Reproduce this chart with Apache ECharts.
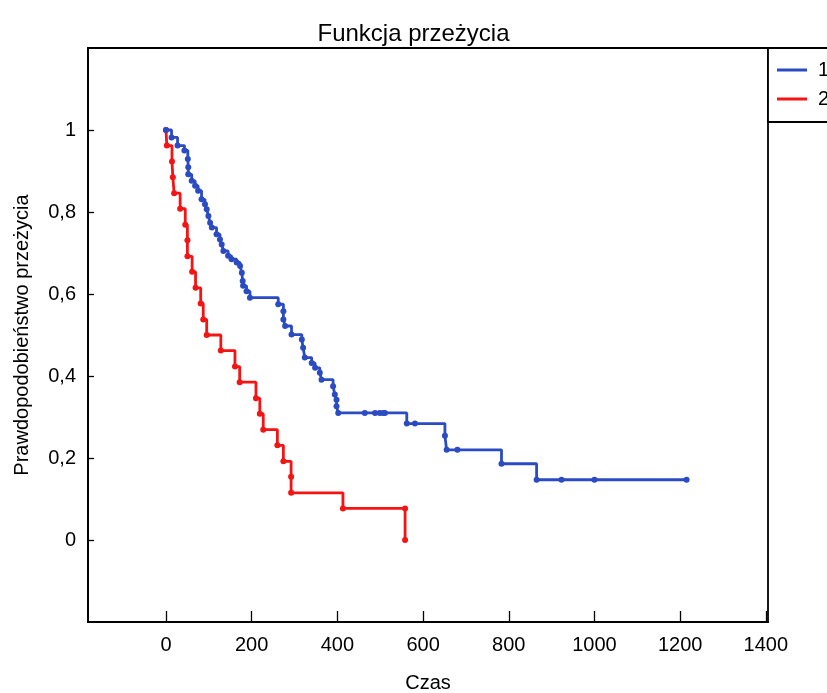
<!DOCTYPE html>
<html>
<head>
<meta charset="utf-8">
<script src="https://cdn.jsdelivr.net/npm/echarts@6/dist/echarts.min.js"></script>
<style>
html,body{margin:0;padding:0;background:#fff;}
#chart{width:827px;height:693px;}
</style>
</head>
<body>
<div id="chart"></div>
<script>
// ---- data ----
const chartTitle = 'Funkcja przeżycia';
const xAxisName = 'Czas';
const yAxisName = 'Prawdopodobieństwo przeżycia';
const seriesNames = ['1', '2'];
const xTicks = [0, 200, 400, 600, 800, 1000, 1200, 1400];
const yTicks = [0, 0.2, 0.4, 0.6, 0.8, 1];

const timesGroup1 = [0, 13, 27, 43, 51, 52, 52, 60, 68, 75, 83, 91, 95, 99, 103, 107, 118, 126, 130, 134, 145, 153, 165, 173, 177, 179, 180, 188, 196, 262, 274, 274, 278, 293, 317, 320, 324, 340, 348, 359, 363, 390, 394, 398, 398, 402, 464, 488, 499, 507, 511, 562, 581, 651, 655, 680, 783, 865, 923, 1000, 1215];
const survGroup1 = [1, 0.982, 0.962, 0.95, 0.929, 0.909, 0.892, 0.876, 0.864, 0.852, 0.831, 0.819, 0.807, 0.79, 0.774, 0.762, 0.746, 0.733, 0.721, 0.705, 0.693, 0.685, 0.677, 0.668, 0.652, 0.632, 0.62, 0.607, 0.591, 0.575, 0.558, 0.538, 0.522, 0.501, 0.489, 0.469, 0.445, 0.432, 0.42, 0.408, 0.391, 0.375, 0.355, 0.342, 0.326, 0.31, 0.31, 0.31, 0.31, 0.31, 0.31, 0.284, 0.284, 0.254, 0.22, 0.22, 0.186, 0.147, 0.147, 0.147, 0.147];

const timesGroup2 = [0, 2, 14, 16, 19, 33, 45, 50, 50, 61, 69, 81, 87, 95, 128, 161, 172, 210, 219, 227, 260, 274, 292, 292, 413, 558, 558];
const survGroup2 = [1, 0.962, 0.923, 0.885, 0.846, 0.808, 0.769, 0.731, 0.692, 0.654, 0.615, 0.577, 0.538, 0.5, 0.462, 0.423, 0.385, 0.346, 0.308, 0.269, 0.231, 0.192, 0.154, 0.115, 0.077, 0.077, 0];

// ---- build ----
const zip = (a, b) => a.map((v, i) => [v, b[i]]);
const blue = '#2a4bc2';
const red = '#f41414';
const font = 'Liberation Sans, Arial, sans-serif';

const chart = echarts.init(document.getElementById('chart'), null, {renderer: 'canvas'});
chart.setOption({
  animation: false,
  backgroundColor: '#ffffff',
  title: {
    text: chartTitle,
    left: 'center',
    top: 17,
    textStyle: {fontFamily: font, fontSize: 24, fontWeight: 'normal', color: '#000'}
  },
  legend: {
    orient: 'vertical',
    left: 768,
    top: 48,
    padding: [12, 12, 13, 9],
    itemGap: 9,
    itemWidth: 30,
    itemHeight: 3,
    icon: 'rect',
    borderColor: '#000',
    borderWidth: 1.8,
    backgroundColor: '#fff',
    textStyle: {fontFamily: font, fontSize: 20, color: '#000', padding: [0, 0, 0, 6]},
    data: seriesNames
  },
  grid: {
    left: 88, top: 48, right: 59, bottom: 71,
    outerBoundsMode: 'none',
    containLabel: false,
    show: true, borderColor: '#000', borderWidth: 1.8, backgroundColor: '#fff'
  },
  xAxis: {
    type: 'value',
    min: -182,
    max: 1405,
    name: xAxisName,
    nameLocation: 'middle',
    nameGap: 51,
    nameTextStyle: {fontFamily: font, fontSize: 20, color: '#000'},
    axisLine: {show: true, onZero: false, lineStyle: {color: '#000', width: 1.8}},
    axisTick: {show: true, inside: true, length: 11, customValues: xTicks, lineStyle: {color: '#000', width: 1.3}},
    axisLabel: {customValues: xTicks, margin: 13, fontFamily: font, fontSize: 20, color: '#000',
      formatter: v => String(v)},
    splitLine: {show: false}
  },
  yAxis: {
    type: 'value',
    min: -0.2,
    max: 1.2,
    name: yAxisName,
    nameLocation: 'middle',
    nameGap: 56,
    nameRotate: 90,
    nameTextStyle: {fontFamily: font, fontSize: 20, color: '#000'},
    axisLine: {show: true, onZero: false, lineStyle: {color: '#000', width: 1.8}},
    axisTick: {show: true, inside: true, length: 6, customValues: yTicks, lineStyle: {color: '#000', width: 1.3}},
    axisLabel: {
      customValues: yTicks, margin: 12, fontFamily: font, fontSize: 20, color: '#000',
      formatter: v => String(Math.round(v * 10) / 10).replace('.', ',')
    },
    splitLine: {show: false}
  },
  series: [
    {
      name: seriesNames[0],
      type: 'line',
      step: 'end',
      data: zip(timesGroup1, survGroup1),
      symbol: 'circle',
      symbolSize: 6,
      showSymbol: true,
      lineStyle: {color: blue, width: 2.8},
      itemStyle: {color: blue},
      z: 3
    },
    {
      name: seriesNames[1],
      type: 'line',
      step: 'end',
      data: zip(timesGroup2, survGroup2),
      symbol: 'circle',
      symbolSize: 6,
      showSymbol: true,
      lineStyle: {color: red, width: 2.8},
      itemStyle: {color: red},
      z: 2
    }
  ]
});
</script>
</body>
</html>
